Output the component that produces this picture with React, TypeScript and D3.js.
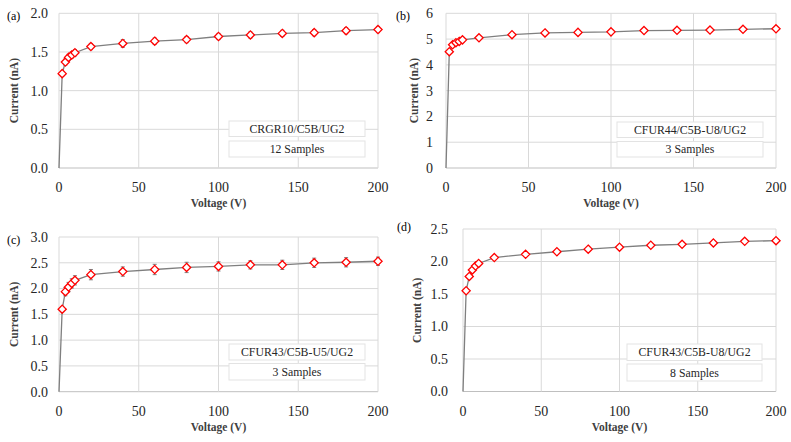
import React from "react";
import * as d3 from "d3";

const voltages = [2, 4, 6, 8, 10, 20, 40, 60, 80, 100, 120, 140, 160, 180, 200];
const xTicks = [0, 50, 100, 150, 200];

const currentA = [1.22, 1.37, 1.43, 1.46, 1.49, 1.57, 1.61, 1.64, 1.66, 1.70, 1.72, 1.74, 1.75, 1.775, 1.79];
const errorA = [0.03, 0.04, 0.04, 0.04, 0.04, 0.04, 0.05, 0.04, 0.04, 0.04, 0.04, 0.04, 0.04, 0.04, 0.04];
const currentB = [4.51, 4.78, 4.86, 4.91, 4.97, 5.05, 5.17, 5.24, 5.26, 5.28, 5.33, 5.34, 5.35, 5.38, 5.40];
const errorB = [0, 0, 0, 0, 0, 0, 0, 0, 0, 0, 0, 0, 0, 0, 0];
const currentC = [1.60, 1.94, 2.03, 2.10, 2.16, 2.27, 2.33, 2.37, 2.41, 2.43, 2.46, 2.46, 2.50, 2.51, 2.53];
const errorC = [0.05, 0.08, 0.09, 0.09, 0.09, 0.10, 0.09, 0.10, 0.10, 0.09, 0.08, 0.09, 0.09, 0.09, 0.08];
const currentD = [1.55, 1.77, 1.87, 1.93, 1.97, 2.06, 2.11, 2.15, 2.19, 2.22, 2.25, 2.265, 2.285, 2.31, 2.32];
const errorD = [0, 0, 0, 0, 0, 0, 0, 0, 0, 0, 0, 0, 0, 0, 0];

const yTicksA = [0, 0.5, 1.0, 1.5, 2.0];
const yTicksB = [0, 1, 2, 3, 4, 5, 6];
const yTicksC = [0, 0.5, 1.0, 1.5, 2.0, 2.5, 3.0];
const yTicksD = [0, 0.5, 1.0, 1.5, 2.0, 2.5];

const labels = ["(a)", "(b)", "(c)", "(d)"];
const sampleNames = ["CRGR10/C5B/UG2", "CFUR44/C5B-U8/UG2", "CFUR43/C5B-U5/UG2", "CFUR43/C5B-U8/UG2"];
const sampleCounts = ["12 Samples", "3 Samples", "3 Samples", "8 Samples"];

const FONT = "'Liberation Serif', 'Times New Roman', serif";

type Layout = {
  x0: number; x1: number; yTop: number; yBot: number;
  labelX: number; labelY: number; yTitleX: number; yTickGap: number;
  boxX0: number; boxX1: number; box1: [number, number]; box2: [number, number];
  yFmt: (v: number) => string;
};

const f1 = d3.format(".1f");
const f0 = d3.format("d");

const layouts: Layout[] = [
  { x0: 59, x1: 378, yTop: 13.3, yBot: 168, labelX: 7, labelY: 20, yTitleX: 18, yTickGap: 11, boxX0: 229, boxX1: 365, box1: [121, 136.5], box2: [141, 157], yFmt: f1 },
  { x0: 446, x1: 776, yTop: 13.3, yBot: 168, labelX: 396, labelY: 20, yTitleX: 418, yTickGap: 13, boxX0: 617, boxX1: 763, box1: [122, 137.5], box2: [141.5, 157], yFmt: f0 },
  { x0: 59, x1: 378, yTop: 237, yBot: 391.7, labelX: 7, labelY: 244, yTitleX: 18, yTickGap: 11, boxX0: 229, boxX1: 365, box1: [344, 360], box2: [363.5, 380], yFmt: f1 },
  { x0: 463, x1: 776, yTop: 229, yBot: 391.5, labelX: 397, labelY: 231, yTitleX: 421, yTickGap: 15, boxX0: 627, boxX1: 762, box1: [344, 360.5], box2: [364, 381], yFmt: f1 },
];

const seriesList = [
  { values: currentA, errors: errorA, ticks: yTicksA },
  { values: currentB, errors: errorB, ticks: yTicksB },
  { values: currentC, errors: errorC, ticks: yTicksC },
  { values: currentD, errors: errorD, ticks: yTicksD },
];

const tickStyle = { fontFamily: FONT, fontSize: "14px" };
const titleStyle = { fontFamily: FONT, fontSize: "11.5px", fontWeight: "bold" as const };
const boxStyle = { fontFamily: FONT, fontSize: "11.8px" };
const labelStyle = { fontFamily: FONT, fontSize: "12px" };

function Panel({ i }: { i: number }) {
  const L = layouts[i];
  const S = seriesList[i];
  const yMax = S.ticks[S.ticks.length - 1];
  const x = d3.scaleLinear().domain([0, 200]).range([L.x0, L.x1]);
  const y = d3.scaleLinear().domain([0, yMax]).range([L.yBot, L.yTop]);
  const pts: [number, number][] = [[0, 0], ...voltages.map((v, k) => [v, S.values[k]] as [number, number])];
  const line = d3.line<[number, number]>().x(d => x(d[0])).y(d => y(d[1]))(pts) || "";
  const grid = "#d9d9d9";
  const cx = (L.x0 + L.x1) / 2;
  const cy = (L.yTop + L.yBot) / 2;
  const r = 4.1;
  return (
    <g>
      {S.ticks.map(t => (
        <line key={"h" + t} x1={L.x0} x2={L.x1} y1={y(t)} y2={y(t)} stroke={t === 0 ? "#bfbfbf" : grid} strokeWidth={1} />
      ))}
      {xTicks.map(t => (
        <line key={"v" + t} x1={x(t)} x2={x(t)} y1={L.yTop} y2={L.yBot} stroke={grid} strokeWidth={1} />
      ))}
      {S.ticks.map(t => (
        <text key={"yl" + t} x={L.x0 - L.yTickGap} y={y(t)} dy="0.35em" textAnchor="end" fill="#262626" style={tickStyle}>{L.yFmt(t)}</text>
      ))}
      {xTicks.map(t => (
        <text key={"xl" + t} x={x(t)} y={L.yBot + 24} textAnchor="middle" fill="#262626" style={tickStyle}>{t}</text>
      ))}
      <text x={cx} y={L.yBot + 39} textAnchor="middle" fill="#404040" style={titleStyle}>Voltage (V)</text>
      <text transform={`translate(${L.yTitleX},${cy}) rotate(-90)`} textAnchor="middle" fill="#404040" style={titleStyle}>Current (nA)</text>
      <text x={L.labelX} y={L.labelY} fill="#000" style={labelStyle}>{labels[i]}</text>
      <rect x={L.boxX0} y={L.box1[0]} width={L.boxX1 - L.boxX0} height={L.box1[1] - L.box1[0]} fill="#fff" stroke="#e3e3e3" />
      <rect x={L.boxX0} y={L.box2[0]} width={L.boxX1 - L.boxX0} height={L.box2[1] - L.box2[0]} fill="#fff" stroke="#e3e3e3" />
      <text x={(L.boxX0 + L.boxX1) / 2} y={(L.box1[0] + L.box1[1]) / 2} dy="0.35em" textAnchor="middle" fill="#262626" style={boxStyle}>{sampleNames[i]}</text>
      <text x={(L.boxX0 + L.boxX1) / 2} y={(L.box2[0] + L.box2[1]) / 2} dy="0.35em" textAnchor="middle" fill="#262626" style={boxStyle}>{sampleCounts[i]}</text>
      <path d={line} fill="none" stroke="#7f7f7f" strokeWidth={1.3} />
      {voltages.map((v, k) => {
        const e = S.errors[k];
        if (!e) return null;
        const px = x(v);
        return (
          <g key={"e" + k} stroke="#7f7f7f" strokeWidth={1}>
            <line x1={px} x2={px} y1={y(S.values[k] - e)} y2={y(S.values[k] + e)} />
            <line x1={px - 2} x2={px + 2} y1={y(S.values[k] - e)} y2={y(S.values[k] - e)} />
            <line x1={px - 2} x2={px + 2} y1={y(S.values[k] + e)} y2={y(S.values[k] + e)} />
          </g>
        );
      })}
      {voltages.map((v, k) => {
        const px = x(v);
        const py = y(S.values[k]);
        return (
          <path key={"m" + k} d={`M${px},${py - r}L${px + r},${py}L${px},${py + r}L${px - r},${py}Z`} fill="#fff" stroke="#ff0000" strokeWidth={1.3} />
        );
      })}
    </g>
  );
}

export default function App() {
  return (
    <svg width={791} height={442} style={{ position: "absolute", left: 0, top: 0, background: "#fff" }}>
      <rect width={791} height={442} fill="#fff" />
      {[0, 1, 2, 3].map(i => <Panel key={i} i={i} />)}
    </svg>
  );
}
